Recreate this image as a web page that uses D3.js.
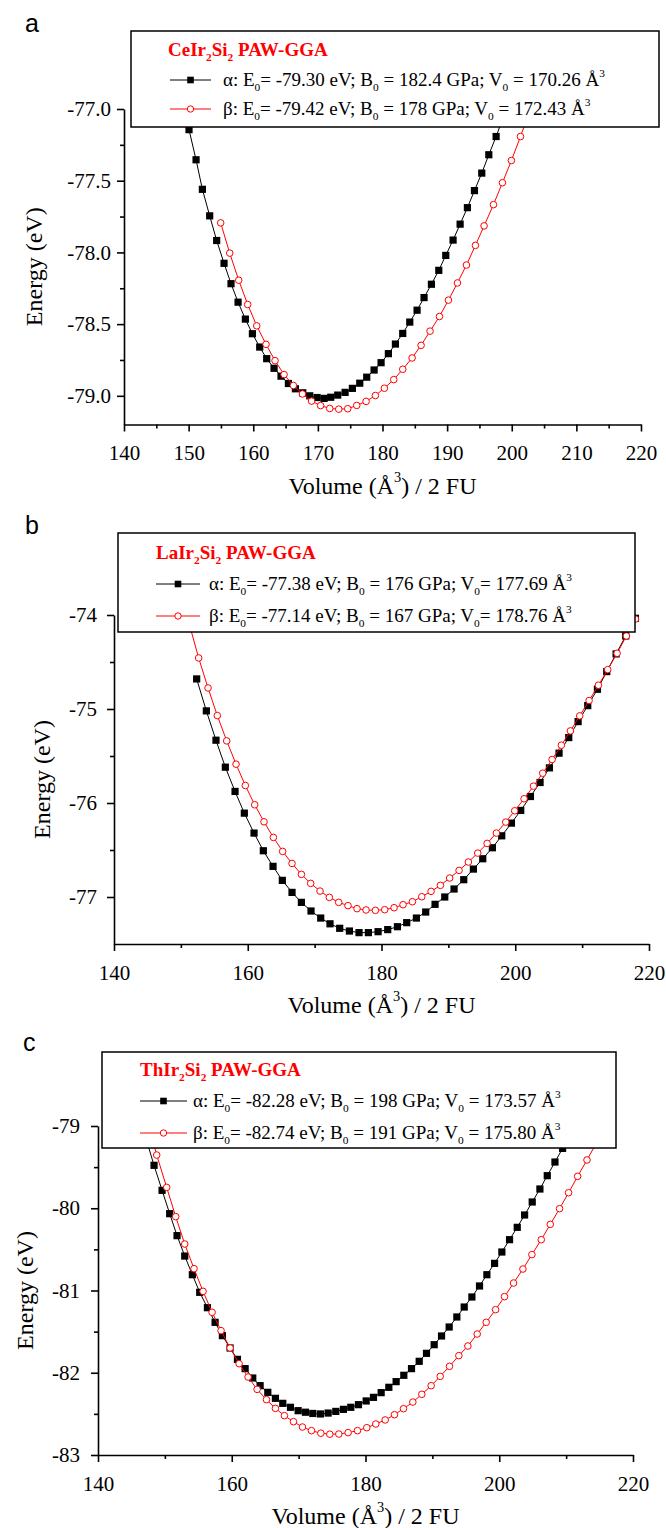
<!DOCTYPE html>
<html>
<head>
<meta charset="utf-8">
<script src="https://cdn.jsdelivr.net/npm/d3@7"></script>
<style>
  body { margin: 0; background: #fff; }
  svg text { font-family: "Liberation Serif", "Times New Roman", serif; fill: #000; }
</style>
</head>
<body>
<div id="chart"></div>
<script>
// ---------- data ----------

// panel a : CeIr2Si2
var volA_alpha = [148.96, 150.06, 151.15, 152.13, 153.26, 154.34, 155.48, 156.56, 157.65, 158.78, 159.87, 161.00, 162.08, 163.22, 164.30, 165.44, 166.52, 167.66, 168.74, 169.88, 170.96, 171.99, 173.07, 174.21, 175.34, 176.48, 177.56, 178.70, 179.78, 180.91, 182.00, 183.13, 184.22, 185.35, 186.43, 187.57, 188.71, 189.79, 190.92, 192.01, 193.14, 194.23, 195.36, 196.45, 197.58, 198.67];
var enA_alpha = [-76.93, -77.144, -77.354, -77.56, -77.745, -77.917, -78.076, -78.218, -78.347, -78.465, -78.567, -78.660, -78.741, -78.808, -78.863, -78.914, -78.951, -78.979, -79.000, -79.012, -79.018, -79.010, -78.995, -78.976, -78.948, -78.912, -78.870, -78.820, -78.769, -78.706, -78.639, -78.565, -78.486, -78.403, -78.315, -78.222, -78.125, -78.021, -77.914, -77.803, -77.688, -77.569, -77.447, -77.319, -77.192, -77.06];
var volA_beta = [154.96, 156.36, 157.75, 159.14, 160.54, 161.98, 163.37, 164.77, 166.21, 167.61, 169.02, 170.42, 171.83, 173.23, 174.62, 176.01, 177.46, 178.90, 180.29, 181.74, 183.13, 184.58, 185.97, 187.36, 188.81, 190.20, 191.60, 192.99, 194.38, 195.72, 197.17, 198.56, 199.95, 201.35, 202.74];
var enA_beta = [-77.794, -78.005, -78.194, -78.363, -78.512, -78.641, -78.755, -78.852, -78.928, -78.987, -79.037, -79.068, -79.088, -79.093, -79.090, -79.067, -79.039, -78.998, -78.947, -78.887, -78.815, -78.736, -78.648, -78.549, -78.447, -78.333, -78.213, -78.088, -77.951, -77.815, -77.667, -77.514, -77.359, -77.192, -77.02];

// panel b : LaIr2Si2
var volB_alpha = [152.36, 153.81, 155.25, 156.65, 158.10, 159.49, 160.94, 162.33, 163.78, 165.17, 166.62, 168.02, 169.46, 170.91, 172.30, 173.75, 175.20, 176.64, 178.04, 179.49, 180.93, 182.38, 183.77, 185.22, 186.61, 188.01, 189.46, 190.85, 192.30, 193.74, 195.14, 196.58, 197.98, 199.43, 200.82, 202.27, 203.71, 205.11, 206.55, 208.00, 209.40, 210.84, 212.29, 213.68, 215.08, 216.52, 217.97];
var enB_alpha = [-74.68, -75.02, -75.332, -75.619, -75.877, -76.108, -76.32, -76.508, -76.674, -76.823, -76.951, -77.057, -77.149, -77.224, -77.285, -77.333, -77.362, -77.379, -77.379, -77.369, -77.347, -77.316, -77.273, -77.224, -77.160, -77.078, -77.000, -76.915, -76.816, -76.703, -76.593, -76.476, -76.349, -76.214, -76.079, -75.931, -75.782, -75.626, -75.470, -75.304, -75.134, -74.964, -74.790, -74.602, -74.414, -74.223, -74.035];
var volB_beta = [151.27, 152.66, 154.06, 155.45, 156.85, 158.25, 159.64, 161.04, 162.43, 163.83, 165.22, 166.62, 168.02, 169.41, 170.81, 172.20, 173.60, 174.99, 176.34, 177.69, 179.09, 180.48, 181.88, 183.22, 184.62, 186.02, 187.41, 188.81, 190.20, 191.60, 192.99, 194.39, 195.79, 197.18, 198.58, 199.92, 201.32, 202.72, 204.11, 205.51, 206.90, 208.25, 209.64, 211.04, 212.44, 213.83, 215.23, 216.62, 217.97];
var enB_beta = [-74.10, -74.457, -74.776, -75.07, -75.339, -75.587, -75.814, -76.019, -76.200, -76.366, -76.515, -76.643, -76.759, -76.855, -76.937, -77.004, -77.057, -77.092, -77.124, -77.138, -77.142, -77.135, -77.114, -77.082, -77.050, -76.997, -76.940, -76.876, -76.798, -76.717, -76.628, -76.533, -76.430, -76.320, -76.203, -76.083, -75.955, -75.821, -75.683, -75.537, -75.385, -75.233, -75.073, -74.910, -74.747, -74.581, -74.407, -74.223, -74.043];

// panel c : ThIr2Si2
var volC_alpha = [147.2, 148.38, 149.58, 150.72, 151.82, 152.97, 154.11, 155.21, 156.36, 157.51, 158.60, 159.75, 160.85, 162.00, 163.14, 164.24, 165.39, 166.53, 167.63, 168.78, 169.93, 171.02, 172.12, 173.26, 174.41, 175.56, 176.70, 177.80, 178.95, 180.10, 181.19, 182.34, 183.49, 184.58, 185.73, 186.88, 188.03, 189.12, 190.27, 191.37, 192.51, 193.66, 194.76, 195.91, 197.05, 198.15, 199.30, 200.39, 201.54, 202.69, 203.79, 204.93, 206.08, 207.18, 208.33, 209.47, 210.62];
var enC_alpha = [-79.16, -79.478, -79.782, -80.066, -80.333, -80.581, -80.808, -81.022, -81.209, -81.387, -81.549, -81.699, -81.837, -81.950, -82.064, -82.157, -82.238, -82.311, -82.372, -82.420, -82.461, -82.480, -82.495, -82.501, -82.490, -82.470, -82.445, -82.420, -82.388, -82.343, -82.299, -82.242, -82.177, -82.108, -82.031, -81.950, -81.861, -81.764, -81.659, -81.553, -81.444, -81.322, -81.201, -81.079, -80.945, -80.808, -80.670, -80.532, -80.382, -80.232, -80.082, -79.924, -79.766, -79.604, -79.438, -79.272, -79.10];
var volC_beta = [147.4, 148.78, 150.27, 151.62, 152.97, 154.36, 155.71, 157.06, 158.40, 159.75, 161.10, 162.44, 163.79, 165.19, 166.53, 167.88, 169.23, 170.57, 171.92, 173.32, 174.66, 176.01, 177.40, 178.80, 180.19, 181.54, 182.94, 184.33, 185.68, 187.08, 188.42, 189.82, 191.17, 192.56, 193.96, 195.31, 196.70, 198.05, 199.45, 200.79, 202.14, 203.54, 204.88, 206.28, 207.63, 209.02, 210.37, 211.72, 213.12, 214.50];
var enC_beta = [-78.95, -79.353, -79.746, -80.102, -80.435, -80.735, -81.010, -81.265, -81.488, -81.699, -81.890, -82.052, -82.202, -82.327, -82.433, -82.522, -82.595, -82.660, -82.704, -82.735, -82.747, -82.745, -82.728, -82.704, -82.668, -82.623, -82.574, -82.510, -82.437, -82.356, -82.262, -82.157, -82.044, -81.922, -81.792, -81.675, -81.529, -81.387, -81.233, -81.075, -80.909, -80.739, -80.564, -80.382, -80.196, -80.005, -79.811, -79.612, -79.413, -79.21];

// ticks
var xTicksA = [140, 150, 160, 170, 180, 190, 200, 210, 220];
var xMinorA = [145, 155, 165, 175, 185, 195, 205, 215];
var yTicksA = [-79.0, -78.5, -78.0, -77.5, -77.0];
var yMinorA = [-78.75, -78.25, -77.75, -77.25];
var xTicksBC = [140, 160, 180, 200, 220];
var xMinorBC = [150, 170, 190, 210];
var yTicksB = [-77, -76, -75, -74];
var yMinorB = [-76.5, -75.5, -74.5];
var yTicksC = [-83, -82, -81, -80, -79];
var yMinorC = [-82.5, -81.5, -80.5, -79.5];

// legend texts
var titlesABC = ["CeIr_2Si_2 PAW-GGA", "LaIr_2Si_2 PAW-GGA", "ThIr_2Si_2 PAW-GGA"];
var alphaTexts = [
  "\u03b1: E_0= -79.30 eV; B_0 = 182.4 GPa; V_0 = 170.26 \u00c5^3",
  "\u03b1: E_0= -77.38 eV; B_0 = 176 GPa; V_0= 177.69 \u00c5^3",
  "\u03b1: E_0= -82.28 eV; B_0 = 198 GPa; V_0 = 173.57 \u00c5^3"
];
var betaTexts = [
  "\u03b2: E_0= -79.42 eV; B_0 = 178 GPa; V_0 = 172.43 \u00c5^3",
  "\u03b2:  E_0= -77.14 eV; B_0 = 167 GPa; V_0= 178.76 \u00c5^3",
  "\u03b2: E_0= -82.74 eV; B_0 = 191 GPa; V_0 = 175.80 \u00c5^3"
];

var serif = "'Liberation Serif', 'Times New Roman', serif";

// ---------- layout ----------
var svgWidth = 666;
var svgHeight = 1528;

var svg = d3.select("#chart")
  .append("svg")
  .attr("width", svgWidth)
  .attr("height", svgHeight)
  .attr("font-family", serif);

var panels = [
  { tag: "a", tagX: 25, tagY: 32,
    left: 124, right: 641, top: 109, bottom: 424.5, yDom: [-79.2, -77.0],
    xTicks: xTicksA, xMinor: xMinorA, yTicks: yTicksA, yMinor: yMinorA, yFmt: function(d) { return d.toFixed(1); },
    yPad: 6, yTitleX: 42,
    alpha: [volA_alpha, enA_alpha], beta: [volA_beta, enA_beta],
    box: [131, 31, 659, 127], titleX: 168, titleY: 56, rowY: [86, 115], lineX: [170, 211], textX: 223 },
  { tag: "b", tagX: 25, tagY: 534,
    left: 114, right: 649, top: 615, bottom: 944, yDom: [-77.5, -74],
    xTicks: xTicksBC, xMinor: xMinorBC, yTicks: yTicksB, yMinor: yMinorB, yFmt: function(d) { return d.toFixed(0); },
    yPad: 10, yTitleX: 50,
    alpha: [volB_alpha, enB_alpha], beta: [volB_beta, enB_beta],
    box: [118, 533, 635, 632], titleX: 156, titleY: 559, rowY: [590, 622], lineX: [156, 200], textX: 209 },
  { tag: "c", tagX: 23, tagY: 1051,
    left: 98, right: 633, top: 1126, bottom: 1455, yDom: [-83, -79],
    xTicks: xTicksBC, xMinor: xMinorBC, yTicks: yTicksC, yMinor: yMinorC, yFmt: function(d) { return d.toFixed(0); },
    yPad: 11, yTitleX: 33,
    alpha: [volC_alpha, enC_alpha], beta: [volC_beta, enC_beta],
    box: [102, 1052, 616, 1148], titleX: 140, titleY: 1076, rowY: [1107, 1139], lineX: [140, 187], textX: 193 }
];

// write text with _x subscripts and ^x superscripts
function richText(sel, str, size) {
  var parts = str.split(/([_^].)/);
  var shift = 0;
  parts.forEach(function(p) {
    if (!p) return;
    var t = sel.append("tspan");
    if (p[0] === "_") {
      t.attr("dy", size * 0.28 - shift).attr("font-size", size * 0.6).text(p[1]);
      shift = size * 0.28;
    } else if (p[0] === "^") {
      t.attr("dy", -size * 0.5 - shift).attr("font-size", size * 0.6).text(p[1]);
      shift = -size * 0.5;
    } else {
      t.attr("dy", -shift).text(p);
      shift = 0;
    }
  });
}

function zip(a, b) {
  return a.map(function(v, i) { return [v, b[i]]; });
}

panels.forEach(function(p, idx) {
  var xScale = d3.scaleLinear().domain([140, 220]).range([p.left, p.right]);
  var yScale = d3.scaleLinear().domain(p.yDom).range([p.bottom, p.top]);

  var g = svg.append("g");

  // panel letter
  svg.append("text")
    .attr("x", p.tagX)
    .attr("y", p.tagY)
    .style("font-family", "'Liberation Sans', Arial, sans-serif")
    .attr("font-size", 25)
    .text(p.tag);

  // x axis (major + minor)
  g.append("g")
    .attr("transform", `translate(0, ${p.bottom})`)
    .call(d3.axisBottom(xScale).tickValues(p.xTicks).tickSize(7).tickSizeOuter(0).tickPadding(14).tickFormat(d3.format("d")));
  g.append("g")
    .attr("transform", `translate(0, ${p.bottom})`)
    .call(d3.axisBottom(xScale).tickValues(p.xMinor).tickSize(4).tickSizeOuter(0).tickFormat(""))
    .select(".domain").remove();

  // y axis (major + minor)
  g.append("g")
    .attr("transform", `translate(${p.left}, 0)`)
    .call(d3.axisLeft(yScale).tickValues(p.yTicks).tickSize(7).tickSizeOuter(0).tickPadding(p.yPad).tickFormat(p.yFmt));
  g.append("g")
    .attr("transform", `translate(${p.left}, 0)`)
    .call(d3.axisLeft(yScale).tickValues(p.yMinor).tickSize(4).tickSizeOuter(0).tickFormat(""))
    .select(".domain").remove();

  g.selectAll(".domain, .tick line")
    .attr("stroke", "#000")
    .attr("stroke-width", 1.6);
  g.selectAll("g").attr("font-family", serif);
  g.selectAll(".tick text")
    .attr("font-size", 21)
    .style("font-family", serif);

  // axis titles
  var xt = g.append("text")
    .attr("x", (p.left + p.right) / 2)
    .attr("y", p.bottom + 69)
    .attr("text-anchor", "middle")
    .attr("font-size", 24)
    .style("font-family", serif);
  richText(xt, "Volume (\u00c5^3) / 2 FU", 24);

  g.append("text")
    .attr("transform", `translate(${p.yTitleX}, ${(p.top + p.bottom) / 2}) rotate(-90)`)
    .attr("text-anchor", "middle")
    .attr("font-size", 24)
    .style("font-family", serif)
    .text("Energy (eV)");

  // curves
  var line = d3.line()
    .x(d => xScale(d[0]))
    .y(d => yScale(d[1]));

  var alphaData = zip(p.alpha[0], p.alpha[1]);
  var betaData = zip(p.beta[0], p.beta[1]);

  g.append("path")
    .attr("d", line(alphaData))
    .attr("fill", "none")
    .attr("stroke", "#000")
    .attr("stroke-width", 1);
  g.selectAll(".sq")
    .data(alphaData)
    .enter()
    .append("rect")
    .attr("class", "sq")
    .attr("x", d => xScale(d[0]) - 3.6)
    .attr("y", d => yScale(d[1]) - 3.6)
    .attr("width", 7.2)
    .attr("height", 7.2)
    .attr("fill", "#000");

  g.append("path")
    .attr("d", line(betaData))
    .attr("fill", "none")
    .attr("stroke", "#ff0000")
    .attr("stroke-width", 1);
  g.selectAll(".ci")
    .data(betaData)
    .enter()
    .append("circle")
    .attr("class", "ci")
    .attr("cx", d => xScale(d[0]))
    .attr("cy", d => yScale(d[1]))
    .attr("r", 3.3)
    .attr("fill", "#fff")
    .attr("stroke", "#ff0000")
    .attr("stroke-width", 1);

  // legend box
  var b = p.box;
  g.append("rect")
    .attr("x", b[0])
    .attr("y", b[1])
    .attr("width", b[2] - b[0])
    .attr("height", b[3] - b[1])
    .attr("fill", "#fff")
    .attr("stroke", "#000")
    .attr("stroke-width", 1.5);

  var title = g.append("text")
    .attr("x", p.titleX)
    .attr("y", p.titleY)
    .attr("font-size", 19)
    .attr("font-weight", "bold")
    .style("fill", "#ff0000");
  richText(title, titlesABC[idx], 19);

  var midX = (p.lineX[0] + p.lineX[1]) / 2;
  // alpha row
  g.append("line")
    .attr("x1", p.lineX[0]).attr("x2", p.lineX[1])
    .attr("y1", p.rowY[0] - 6).attr("y2", p.rowY[0] - 6)
    .attr("stroke", "#000").attr("stroke-width", 1);
  g.append("rect")
    .attr("x", midX - 3.3).attr("y", p.rowY[0] - 9.3)
    .attr("width", 6.6).attr("height", 6.6)
    .attr("fill", "#000");
  richText(g.append("text").attr("x", p.textX).attr("y", p.rowY[0]).attr("font-size", 19), alphaTexts[idx], 19);

  // beta row
  g.append("line")
    .attr("x1", p.lineX[0]).attr("x2", p.lineX[1])
    .attr("y1", p.rowY[1] - 6).attr("y2", p.rowY[1] - 6)
    .attr("stroke", "#ff0000").attr("stroke-width", 1);
  g.append("circle")
    .attr("cx", midX).attr("cy", p.rowY[1] - 6)
    .attr("r", 3.2)
    .attr("fill", "#fff")
    .attr("stroke", "#ff0000");
  richText(g.append("text").attr("x", p.textX).attr("y", p.rowY[1]).attr("font-size", 19), betaTexts[idx], 19);
});
</script>
</body>
</html>
